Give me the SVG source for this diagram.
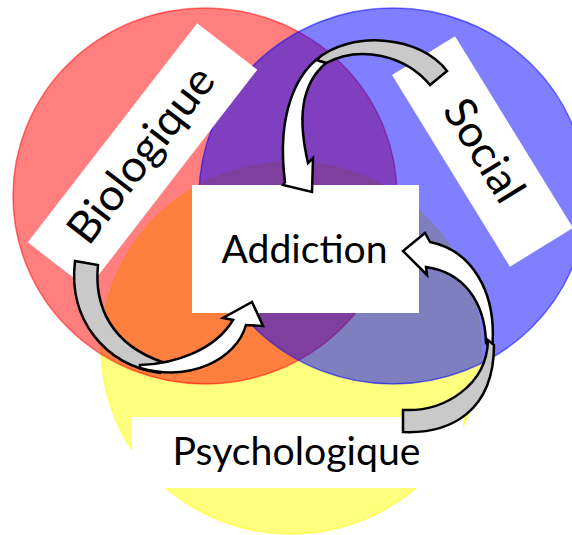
<svg xmlns="http://www.w3.org/2000/svg" width="572" height="535" viewBox="0 0 572 535">
<style>
.lbl{font-family:Lato,"Open Sans","Liberation Sans",sans-serif;fill:#000;text-anchor:middle}
.big{font-size:44px}
.mid{font-size:39px}
.box{fill:#fff}
.circ{fill-opacity:0.5;stroke-opacity:0.5;stroke-width:1.5}
.back{fill:#C9C9C9;stroke:#000;stroke-width:2.5;stroke-linejoin:miter}
.front{fill:#fff;stroke:#000;stroke-width:2.5;stroke-linejoin:miter}
</style>
<rect width="572" height="535" fill="#fff"/>
<g id="circles">
<ellipse class="circ" cx="291" cy="348" rx="190" ry="186" fill="#FFFF00" stroke="#FFFF00"/>
<ellipse class="circ" cx="205" cy="196" rx="192" ry="188" fill="#FF0000" stroke="#FF0000"/>
<ellipse class="circ" cx="393" cy="196" rx="194" ry="188" fill="#0000FF" stroke="#0000FF"/>
</g>
<g id="biologique" transform="translate(142.5,156) rotate(-52.3)">
<rect class="box" x="-138.5" y="-38" width="277" height="76"/>
<text class="lbl big" x="0" y="13" textLength="210" lengthAdjust="spacingAndGlyphs">Biologique</text>
</g>
<g id="social" transform="translate(482.5,151.5) rotate(58.4)">
<rect class="box" x="-112.5" y="-37" width="225" height="74"/>
<text class="lbl big" x="0" y="13" textLength="113" lengthAdjust="spacingAndGlyphs">Social</text>
</g>
<g id="addiction">
<rect class="box" x="192" y="185" width="227" height="128"/>
<text class="lbl mid" x="304.5" y="263" textLength="166" lengthAdjust="spacingAndGlyphs">Addiction</text>
</g>
<g id="psychologique">
<rect class="box" x="132" y="417" width="331" height="71"/>
<text class="lbl mid" x="296.5" y="465" textLength="248" lengthAdjust="spacingAndGlyphs">Psychologique</text>
</g>
<g id="connectors">
<g id="arrow-social">
<path class="back" d="M447,71 L430,85 C405,55 360,45 326,63 L316,60 C350,30 420,35 447,71 Z"/>
<path class="front" d="M316,60 C298,75 276,112 285,182 L283,185 L312,192 L313,158 L308,163 C298,120 300,85 326,63 Z"/>
</g>
<g id="arrow-biologique">
<path class="back" d="M75,261 L98,265 C94,305 110,345 165,363 L160,373 C105,365 68,320 75,261 Z"/>
<path class="front" d="M140,365 C175,364 215,350 233,320 L223,318 L252,302 L263,326 L246,325 C236,360 190,382 140,368 Z"/>
</g>
<g id="arrow-psychologique">
<path class="front" d="M426,267 L427,275 L403,251 L425,233 L430,242 C470,250 498,290 492,350 L486,343 C485,300 462,272 426,267 Z"/>
<path class="back" d="M403,410 L403,432 C450,434 494,412 494,345 L488,340 C487,385 445,412 403,410 Z"/>
</g>
</g>
</svg>
